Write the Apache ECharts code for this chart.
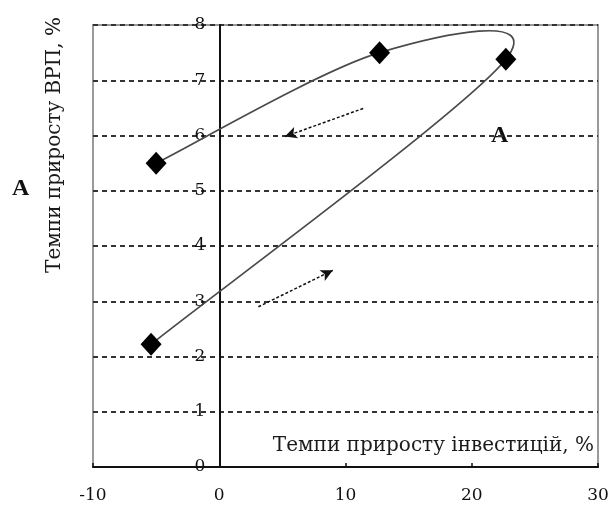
<!DOCTYPE html>
<html>
<head>
<meta charset="utf-8">
<script src="https://cdn.jsdelivr.net/npm/echarts@6/dist/echarts.min.js"></script>
<style>html,body{margin:0;padding:0;background:#fff}#c{width:613px;height:510px}</style>
</head>
<body>
<div id="c"></div>
<script>
// Data
var pointX = [-5.4, 22.7, 12.7, -5.0];
var pointY = [2.22, 7.38, 7.5, 5.5];
var xTicks = [-10, 0, 10, 20, 30];
var yTicks = [0, 1, 2, 3, 4, 5, 6, 7, 8];
var arrowUp = [[3.1, 2.9], [9.0, 3.56]];
var arrowDown = [[11.4, 6.49], [5.2, 5.98]];
var xName = 'Темпи приросту інвестицій, %';
var yName = 'Темпи приросту ВРП, %';
var markLabel = 'A';

var FONT = '"DejaVu Serif", "Liberation Serif", serif';
var chart = echarts.init(document.getElementById('c'), null, {renderer: 'canvas'});

var GL = 93, GR = 15;
var plotW = 613 - GL - GR;
var zeroOffset = -plotW * (0 - xTicks[0]) / (xTicks[xTicks.length - 1] - xTicks[0]);

var segIdx = [];
for (var i = 0; i < pointX.length - 1; i++) segIdx.push([pointX[i], pointY[i]]);

function renderSeg(params, api) {
  var i = params.dataIndex;
  var n = pointX.length;
  var P = function (j) {
    j = Math.max(0, Math.min(n - 1, j));
    return api.coord([pointX[j], pointY[j]]);
  };
  var p0 = P(i - 1), p1 = P(i), p2 = P(i + 1), p3 = P(i + 2);
  var c1 = [p1[0] + (p2[0] - p0[0]) / 6, p1[1] + (p2[1] - p0[1]) / 6];
  var c2 = [p2[0] - (p3[0] - p1[0]) / 6, p2[1] - (p3[1] - p1[1]) / 6];
  return {
    type: 'bezierCurve',
    shape: {x1: p1[0], y1: p1[1], x2: p2[0], y2: p2[1],
            cpx1: c1[0], cpy1: c1[1], cpx2: c2[0], cpy2: c2[1]},
    style: {stroke: '#4a4a4a', lineWidth: 1.7, fill: null}
  };
}

var option = {
  animation: false,
  backgroundColor: '#fff',
  grid: {left: GL, right: GR, top: 25, bottom: 43, show: true,
         borderColor: '#9a9a9a', borderWidth: 2, backgroundColor: '#fff'},
  xAxis: {
    type: 'value', min: xTicks[0], max: xTicks[xTicks.length - 1], interval: 10,
    axisLine: {onZero: true, lineStyle: {color: '#111', width: 2}},
    axisTick: {show: true, length: 4, inside: true, lineStyle: {color: '#111', width: 1.5}},
    axisLabel: {color: '#111', fontFamily: FONT, fontSize: 17, margin: 20},
    splitLine: {show: false}
  },
  yAxis: {
    type: 'value', min: yTicks[0], max: yTicks[yTicks.length - 1], interval: 1,
    position: 'left', offset: zeroOffset,
    axisLine: {onZero: false, lineStyle: {color: '#111', width: 2}},
    axisTick: {show: false},
    axisLabel: {color: '#111', fontFamily: FONT, fontSize: 17, margin: 14},
    splitLine: {show: true, lineStyle: {color: '#333', width: 2, type: [5, 4]}}
  },
  graphic: [
    {type: 'text', left: 12, top: 177, style: {text: markLabel, font: 'bold 24px "Liberation Serif", serif', fill: '#111'}},
    {type: 'text', x: 491, y: 124, style: {text: markLabel, font: 'bold 24px "Liberation Serif", serif', fill: '#111'}},
    {type: 'text', x: 594, y: 446, style: {text: xName, font: '20px ' + FONT, fill: '#1a1a1a', textAlign: 'right', textVerticalAlign: 'middle'}},
    {type: 'text', x: 55, y: 145, rotation: Math.PI / 2, style: {text: yName, font: '20px ' + FONT, fill: '#1a1a1a', textAlign: 'center', textVerticalAlign: 'middle'}}
  ],
  series: [
    {type: 'custom', renderItem: renderSeg, data: segIdx, z: 3, silent: true},
    {
      type: 'scatter', symbol: 'diamond', symbolSize: [21, 23],
      itemStyle: {color: '#000', opacity: 1}, z: 4,
      data: pointX.map(function (x, k) { return [x, pointY[k]]; }),
      markLine: {
        silent: true, symbol: ['none', 'arrow'], symbolSize: [9, 12],
        label: {show: false},
        lineStyle: {color: '#111', width: 1.5, type: [3, 2]},
        data: [
          [{coord: arrowUp[0]}, {coord: arrowUp[1]}],
          [{coord: arrowDown[0]}, {coord: arrowDown[1]}]
        ]
      }
    }
  ]
};
chart.setOption(option);
</script>
</body>
</html>
